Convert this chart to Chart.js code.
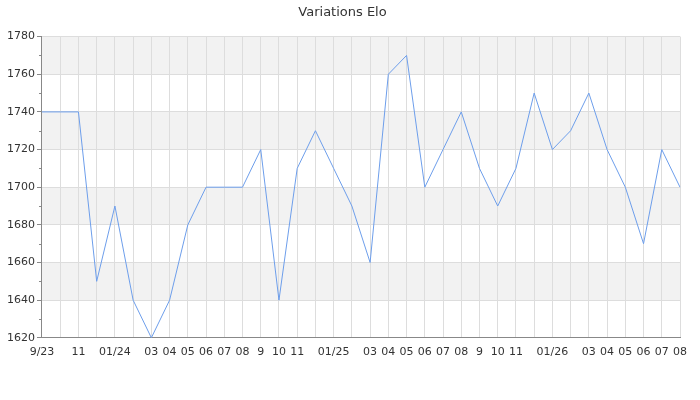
<!DOCTYPE html>
<html>
<head>
<meta charset="utf-8">
<script src="https://cdn.jsdelivr.net/npm/chart.js@4/dist/chart.umd.min.js"></script>
<style>
  html, body { margin: 0; padding: 0; background: #fff; }
  #wrap { width: 700px; height: 400px; }
</style>
</head>
<body>
<div id="wrap"><canvas id="elo"></canvas></div>
<script>
// month labels, blank where the original axis skips one
const months = ['9/23', '', '11', '', '01/24', '', '03', '04', '05', '06', '07', '08',
  '9', '10', '11', '', '01/25', '', '03', '04', '05', '06', '07', '08',
  '9', '10', '11', '', '01/26', '', '03', '04', '05', '06', '07', '08'];

const elo = [1740, 1740, 1740, 1650, 1690, 1640, 1620, 1640, 1680, 1700, 1700, 1700,
  1720, 1640, 1710, 1730, 1710, 1690, 1660, 1760, 1770, 1700, 1720, 1740,
  1710, 1690, 1710, 1750, 1720, 1730, 1750, 1720, 1700, 1670, 1720, 1700];

const yMin = 1620;
const yMax = 1780;
const bandStarts = [1640, 1680, 1720, 1760]; // grey bands, each 20 high

Chart.defaults.font.family = 'DejaVu Sans';
Chart.defaults.font.size = 11;
Chart.defaults.color = '#333';

// grey stripes behind the grid
const bands = {
  id: 'bands',
  beforeDraw(chart) {
    const { ctx, chartArea } = chart;
    const y = chart.scales.y;
    ctx.save();
    ctx.fillStyle = '#f2f2f2';
    bandStarts.forEach(b => {
      const top = y.getPixelForValue(b + 20);
      const bottom = y.getPixelForValue(b);
      ctx.fillRect(chartArea.left, top, chartArea.right - chartArea.left, bottom - top);
    });
    ctx.restore();
  },
  afterDraw(chart) {
    // short minor ticks on the y axis
    const { ctx } = chart;
    const y = chart.scales.y;
    const left = chart.chartArea.left;
    ctx.save();
    ctx.strokeStyle = '#888';
    ctx.lineWidth = 1;
    for (let v = yMin + 10; v < yMax; v += 20) {
      const py = Math.round(y.getPixelForValue(v)) + 0.5;
      ctx.beginPath();
      ctx.moveTo(left - 3, py);
      ctx.lineTo(left, py);
      ctx.stroke();
    }
    ctx.restore();
  }
};

new Chart(document.getElementById('elo'), {
  type: 'line',
  data: {
    labels: months,
    datasets: [{
      label: 'Elo',
      data: elo,
      borderColor: '#6d9eeb',
      borderWidth: 1,
      pointRadius: 0,
      tension: 0,
      fill: false
    }]
  },
  options: {
    responsive: true,
    maintainAspectRatio: false,
    animation: false,
    events: [],
    layout: { padding: { left: 5, right: 20, top: 0, bottom: 33 } },
    plugins: {
      legend: { display: false },
      tooltip: { enabled: false },
      title: {
        display: true,
        text: 'Variations Elo',
        color: '#333',
        font: { size: 13, weight: 'normal' },
        padding: { top: 5, bottom: 16 }
      }
    },
    scales: {
      x: {
        offset: false,
        grid: { color: '#ddd', drawTicks: false },
        border: { color: '#888' },
        ticks: { autoSkip: false, maxRotation: 0, padding: 8, color: '#333' }
      },
      y: {
        min: yMin,
        max: yMax,
        ticks: {
          stepSize: 10,
          padding: 2,
          color: '#333',
          callback: v => (v % 20 === 0 ? v : '')
        },
        grid: {
          color: ctx => (ctx.tick && ctx.tick.value % 20 === 0 ? '#ddd' : 'transparent'),
          tickColor: ctx => (ctx.tick && ctx.tick.value % 20 === 0 ? '#888' : 'transparent'),
          tickLength: 5
        },
        border: { color: '#888' }
      }
    }
  },
  plugins: [bands]
});
</script>
</body>
</html>
